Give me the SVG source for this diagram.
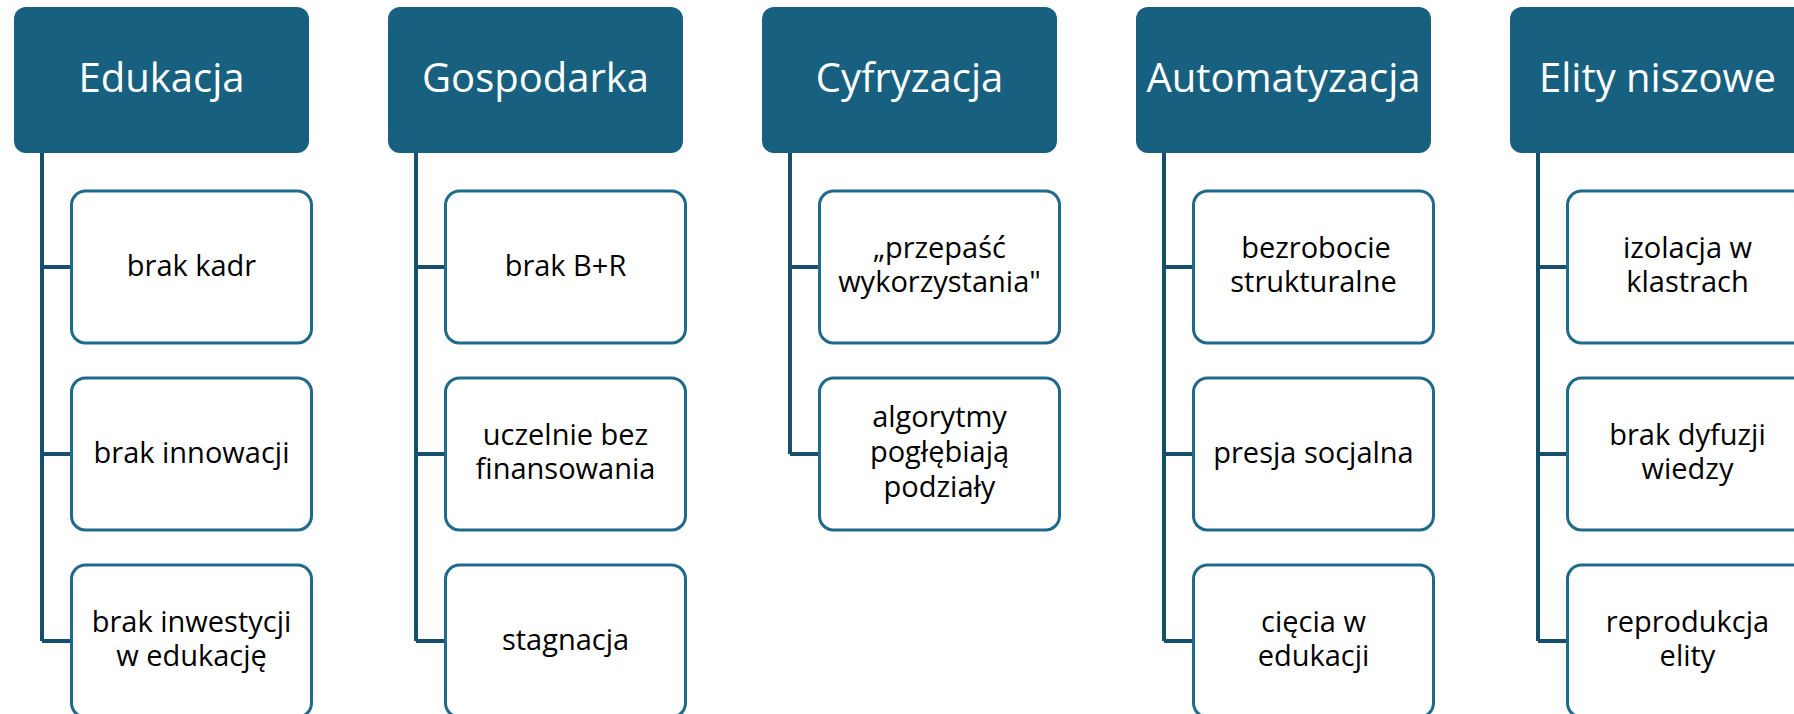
<svg xmlns="http://www.w3.org/2000/svg" width="1794" height="714" viewBox="0 0 1794 714">
<style>
.hdr{fill:#186080}
.hdr-t{fill:#ffffff;font-family:"Open Sans","Noto Sans",sans-serif;font-size:40px;text-anchor:middle}
.box{fill:#ffffff;stroke:#1F6A8B;stroke-width:3}
.box-t{fill:#000000;font-family:"Open Sans","Noto Sans",sans-serif;font-size:29px;text-anchor:middle}
.conn{fill:none;stroke:#154F6C;stroke-width:4}
</style>
<rect width="1794" height="714" fill="#ffffff"/>
<g id="connectors">
<path class="conn" d="M42 153 V641 M42 267 H71 M42 454 H71 M42 641 H71"/>
<path class="conn" d="M416 153 V641 M416 267 H445 M416 454 H445 M416 641 H445"/>
<path class="conn" d="M790 153 V454 M790 267 H819 M790 454 H819"/>
<path class="conn" d="M1164 153 V641 M1164 267 H1193 M1164 454 H1193 M1164 641 H1193"/>
<path class="conn" d="M1538 153 V641 M1538 267 H1567 M1538 454 H1567 M1538 641 H1567"/>
</g>
<g id="edukacja">
<rect class="hdr" x="14" y="7" width="295" height="146" rx="12"/>
<text class="hdr-t" x="161.5" y="92">Edukacja</text>
</g>
<g id="edukacja-1"><rect class="box" x="71.5" y="191" width="240" height="152" rx="14"/><text class="box-t" x="191.5" y="276">brak kadr</text></g>
<g id="edukacja-2"><rect class="box" x="71.5" y="378" width="240" height="152" rx="14"/><text class="box-t" x="191.5" y="463">brak innowacji</text></g>
<g id="edukacja-3"><rect class="box" x="71.5" y="565" width="240" height="152" rx="14"/><text class="box-t" x="191.5" y="632">brak inwestycji<tspan x="191.5" dy="34">w edukację</tspan></text></g>
<g id="gospodarka">
<rect class="hdr" x="388" y="7" width="295" height="146" rx="12"/>
<text class="hdr-t" x="535.5" y="92">Gospodarka</text>
</g>
<g id="gospodarka-1"><rect class="box" x="445.5" y="191" width="240" height="152" rx="14"/><text class="box-t" x="565.5" y="276">brak B+R</text></g>
<g id="gospodarka-2"><rect class="box" x="445.5" y="378" width="240" height="152" rx="14"/><text class="box-t" x="565.5" y="445">uczelnie bez<tspan x="565.5" dy="34">finansowania</tspan></text></g>
<g id="gospodarka-3"><rect class="box" x="445.5" y="565" width="240" height="152" rx="14"/><text class="box-t" x="565.5" y="650">stagnacja</text></g>
<g id="cyfryzacja">
<rect class="hdr" x="762" y="7" width="295" height="146" rx="12"/>
<text class="hdr-t" x="909.5" y="92">Cyfryzacja</text>
</g>
<g id="cyfryzacja-1"><rect class="box" x="819.5" y="191" width="240" height="152" rx="14"/><text class="box-t" x="939.5" y="258">„przepaść<tspan x="939.5" dy="34">wykorzystania"</tspan></text></g>
<g id="cyfryzacja-2"><rect class="box" x="819.5" y="378" width="240" height="152" rx="14"/><text class="box-t" x="939.5" y="427">algorytmy<tspan x="939.5" dy="35">pogłębiają</tspan><tspan x="939.5" dy="35">podziały</tspan></text></g>
<g id="automatyzacja">
<rect class="hdr" x="1136" y="7" width="295" height="146" rx="12"/>
<text class="hdr-t" x="1283.5" y="92">Automatyzacja</text>
</g>
<g id="automatyzacja-1"><rect class="box" x="1193.5" y="191" width="240" height="152" rx="14"/><text class="box-t" x="1316" y="258">bezrobocie<tspan x="1313.5" dy="34">strukturalne</tspan></text></g>
<g id="automatyzacja-2"><rect class="box" x="1193.5" y="378" width="240" height="152" rx="14"/><text class="box-t" x="1313.5" y="463">presja socjalna</text></g>
<g id="automatyzacja-3"><rect class="box" x="1193.5" y="565" width="240" height="152" rx="14"/><text class="box-t" x="1313.5" y="632">cięcia w<tspan x="1313.5" dy="34">edukacji</tspan></text></g>
<g id="elity">
<rect class="hdr" x="1510" y="7" width="295" height="146" rx="12"/>
<text class="hdr-t" x="1657.5" y="92">Elity niszowe</text>
</g>
<g id="elity-1"><rect class="box" x="1567.5" y="191" width="240" height="152" rx="14"/><text class="box-t" x="1687.5" y="258">izolacja w<tspan x="1687.5" dy="34">klastrach</tspan></text></g>
<g id="elity-2"><rect class="box" x="1567.5" y="378" width="240" height="152" rx="14"/><text class="box-t" x="1687.5" y="445">brak dyfuzji<tspan x="1687.5" dy="34">wiedzy</tspan></text></g>
<g id="elity-3"><rect class="box" x="1567.5" y="565" width="240" height="152" rx="14"/><text class="box-t" x="1687.5" y="632">reprodukcja<tspan x="1687.5" dy="34">elity</tspan></text></g>
</svg>
